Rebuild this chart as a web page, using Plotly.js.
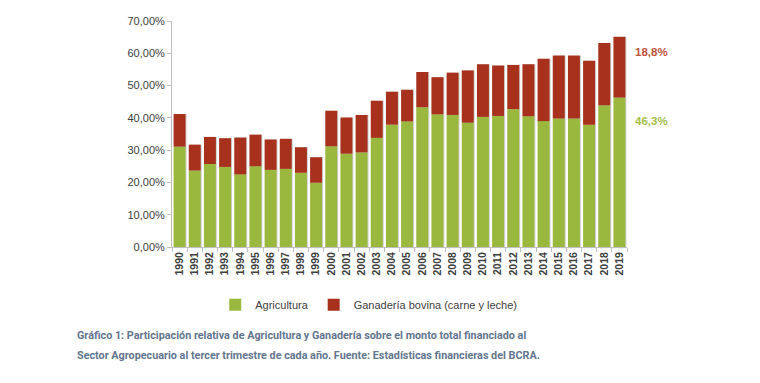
<!DOCTYPE html>
<html>
<head>
<meta charset="utf-8">
<script src="https://cdn.plot.ly/plotly-3.0.1.min.js"></script>
<style>html,body{margin:0;padding:0;background:#fff;}#chart{width:760px;height:383px;}</style>
</head>
<body>
<div id="chart"></div>
<script>
const years = ['1990','1991','1992','1993','1994','1995','1996','1997','1998','1999','2000','2001','2002','2003','2004','2005','2006','2007','2008','2009','2010','2011','2012','2013','2014','2015','2016','2017','2018','2019'];
const agricultura = [31.1,23.7,25.7,24.8,22.5,25.0,23.9,24.2,23.0,19.9,31.2,28.9,29.3,33.8,37.9,38.9,43.3,41.1,40.9,38.5,40.3,40.6,42.7,40.5,39.0,39.8,39.8,37.9,43.9,46.3];
const ganaderia = [10.1,8.0,8.4,8.9,11.4,9.8,9.4,9.3,7.9,7.9,11.0,11.2,11.6,11.5,10.2,9.8,10.9,11.5,13.1,16.2,16.3,15.6,13.7,16.1,19.3,19.5,19.5,19.8,19.3,18.8];
const labelAgri = '46,3%';
const labelGan = '18,8%';
const captionLine1 = 'Gráfico 1: Participación relativa de Agricultura y Ganadería sobre el monto total financiado al';
const captionLine2 = 'Sector Agropecuario al tercer trimestre de cada año. Fuente: Estadísticas financieras del BCRA.';

const total = agricultura.map((v, i) => v + ganaderia[i]);

const traces = [
  {type:'bar', x: years, y: total, offset: -0.34, width: 0.8, marker:{color:'#cfcfcf'}, showlegend:false, hoverinfo:'skip'},
  {type:'bar', name:'Agricultura', x: years, y: agricultura, width: 0.79, marker:{color:'#9bb83e'}},
  {type:'bar', name:'Ganadería bovina (carne y leche)', x: years, y: ganaderia, base: agricultura, width: 0.79, marker:{color:'#a8311d'}}
];

const capFont = {family:'Roboto, sans-serif', size: 10.8, color:'#62758e', weight:'bold'};

const layout = {
  width: 760, height: 383,
  margin: {l: 172, r: 133, t: 21, b: 136},
  paper_bgcolor: '#fff', plot_bgcolor: '#fff',
  barmode: 'overlay',
  separators: ',.',
  font: {family: 'Liberation Sans, Arial, sans-serif', color: '#404040'},
  xaxis: {
    type: 'category', showgrid: false, showline: true, linecolor: '#bfbfbf', linewidth: 1,
    ticks: 'outside', tickson: 'boundaries', ticklen: 4, tickcolor: '#bfbfbf',
    tickangle: -90, tickfont: {size: 10.5, color: '#404040', weight: 'bold'}
  },
  yaxis: {
    range: [0, 70], dtick: 10, tickformat: '.2f', ticksuffix: '%',
    showgrid: false, zeroline: false, showline: true, linecolor: '#bfbfbf', linewidth: 1,
    ticks: 'outside', ticklen: 4, tickcolor: '#bfbfbf',
    tickfont: {size: 11, color: '#404040'}
  },
  showlegend: true,
  legend: {orientation: 'h', x: 0.095, xanchor: 'left', y: -0.255, yanchor: 'middle',
    font: {size: 11, color: '#404040'}, traceorder: 'normal', itemwidth: 30, tracegroupgap: 0},
  annotations: [
    {xref:'paper', yref:'y', x: 1.013, y: 60.4, xanchor:'left', yanchor:'middle', showarrow:false,
     text: labelGan, font:{size: 11.5, color:'#c0533a', weight:'bold'}},
    {xref:'paper', yref:'y', x: 1.013, y: 39.1, xanchor:'left', yanchor:'middle', showarrow:false,
     text: labelAgri, font:{size: 11.5, color:'#a4c04c', weight:'bold'}},
    {xref:'paper', yref:'paper', x: -0.2126, y: -0.392, xanchor:'left', yanchor:'middle', align:'left', showarrow:false,
     text: captionLine1, font: capFont},
    {xref:'paper', yref:'paper', x: -0.2126, y: -0.480, xanchor:'left', yanchor:'middle', align:'left', showarrow:false,
     text: captionLine2, font: capFont}
  ]
};

Plotly.newPlot('chart', traces, layout, {displayModeBar: false, staticPlot: true});
</script>
</body>
</html>
